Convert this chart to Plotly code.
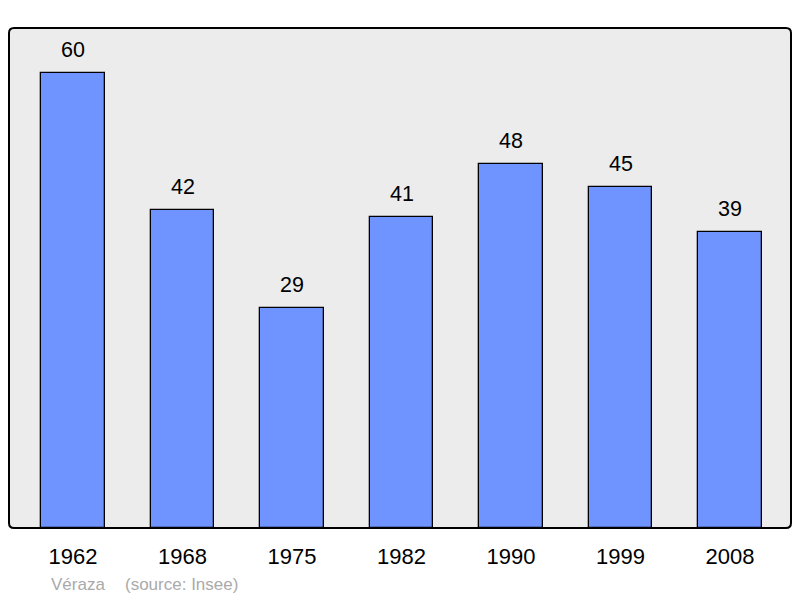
import plotly.graph_objects as go

years = ["1962", "1968", "1975", "1982", "1990", "1999", "2008"]
population = [60, 42, 29, 41, 48, 45, 39]
positions = list(range(len(years)))

# the page body adds an 8px margin, so the figure is placed at (8, 8)
W, H = 784, 590
ml, mr, mt, mb = 1, 1, 20, 70
pw, ph = W - ml - mr, H - mt - mb
FONT = "Liberation Sans, Arial"

fig = go.Figure()
fig.add_trace(go.Bar(
    x=positions, y=population, width=0.584,
    marker=dict(color="#7094ff", line=dict(color="black", width=1.3)),
    hoverinfo="skip",
))

for xp, v in zip(positions, population):
    fig.add_annotation(x=xp, y=v, text=str(v), showarrow=False,
                       yanchor="middle", yshift=23,
                       font=dict(family=FONT, size=21.5, color="black"))

# rounded plot frame
r = 5
rx, ry = r / pw, r / ph
path = (f"M {rx},0 L {1-rx},0 Q 1,0 1,{ry} L 1,{1-ry} Q 1,1 {1-rx},1 "
        f"L {rx},1 Q 0,1 0,{1-ry} L 0,{ry} Q 0,0 {rx},0 Z")
fig.add_shape(type="path", path=path, xref="paper", yref="paper",
              fillcolor="#ececec", line=dict(color="black", width=2), layer="below")

src_y = -(576 - mt - ph) / ph
fig.add_annotation(xref="paper", yref="paper", x=(41 - ml) / pw, y=src_y,
                   text="Véraza", showarrow=False, xanchor="left", yanchor="middle",
                   font=dict(family=FONT, size=17, color="#aaaaaa"))
fig.add_annotation(xref="paper", yref="paper", x=(115 - ml) / pw, y=src_y,
                   text="(source: Insee)", showarrow=False, xanchor="left", yanchor="middle",
                   font=dict(family=FONT, size=17, color="#aaaaaa"))

fig.update_layout(
    width=W, height=H,
    margin=dict(l=ml, r=mr, t=mt, b=mb),
    paper_bgcolor="white", plot_bgcolor="rgba(0,0,0,0)",
    showlegend=False,
    bargap=0,
    xaxis=dict(range=[-0.5845, 6.557], tickvals=positions, ticktext=years,
               showgrid=False, zeroline=False, showline=False,
               ticks="outside", ticklen=9, tickcolor="rgba(0,0,0,0)",
               tickfont=dict(family=FONT, size=22, color="black"),
               fixedrange=True),
    yaxis=dict(range=[0, 65.94], showgrid=False, zeroline=False, showline=False,
               showticklabels=False, fixedrange=True),
)

fig.write_html("out.html")
